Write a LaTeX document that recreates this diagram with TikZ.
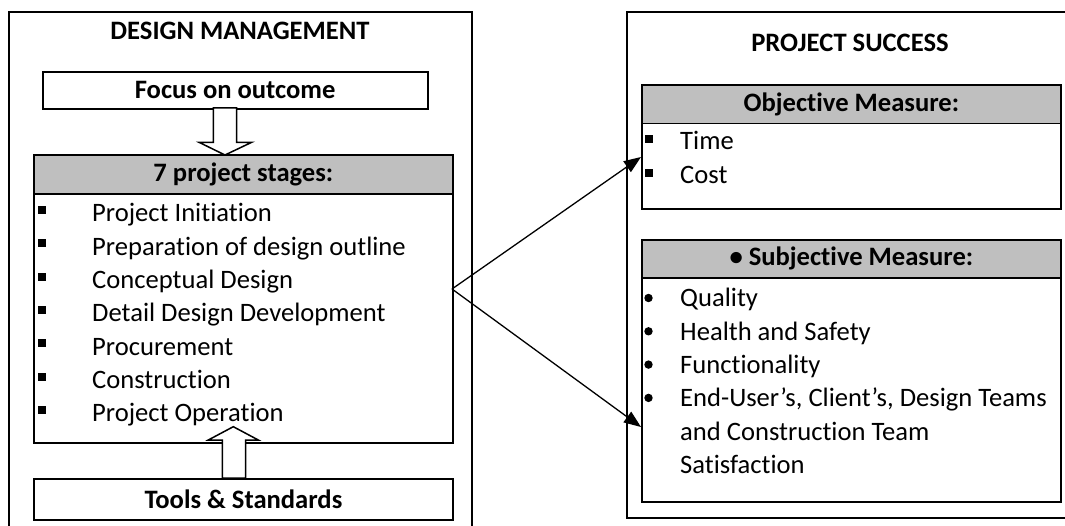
\documentclass[tikz,border=0pt]{standalone}
\usepackage{fontspec}
\setmainfont[Ligatures={TeX,NoCommon}]{Carlito}
\usepackage{tikz}
\usetikzlibrary{arrows.meta}
\definecolor{headgray}{RGB}{191,191,191}
\newcommand{\bigtext}{\fontsize{26.6}{33.3}\selectfont}
\tikzset{
outerbox/.style={
	line width=1.3pt
},
headbox/.style={
	draw,
	fill=headgray,
	anchor=north west,
	inner sep=0pt,
	line width=1.8pt,
	font=\bigtext\bfseries
},
bodybox/.style={
	draw,
	fill=white,
	anchor=north west,
	inner sep=0pt,
	line width=1.8pt
},
plainbox/.style={
	draw,
	fill=white,
	anchor=north west,
	inner sep=0pt,
	line width=1.8pt,
	font=\bigtext\bfseries
},
hollow/.style={
	draw,
	fill=white,
	line width=1.5pt,
	line join=miter
},
item/.style={
	anchor=base west,
	inner sep=0pt
},
link/.style={
	line width=1.3pt,
	-{Triangle[length=17pt,width=13pt]}
}
}

\begin{document}
\begin{tikzpicture}[x=1pt,y=-1pt,font=\bigtext]
		\useasboundingbox[fill=white] (0,0) rectangle (1065,526);
		% the two frames
		\draw[outerbox] (9,530) -- (9,12) -- (472,12) -- (472,530);
		\draw[outerbox] (1070,12) -- (627,12) -- (627,518) -- (1070,518);
		\node[font=\bigtext\bfseries] (dmtitle) at (240,31) {DESIGN MANAGEMENT};
		\node[font=\bigtext\bfseries] (pstitle) at (850,43) {PROJECT SUCCESS};
		% left column
		\node[plainbox, minimum width=385pt, minimum height=37pt] (focus) at (41.7,71) {Focus on outcome};
		\node[bodybox, minimum width=419pt, minimum height=248.7pt] (stagebody) at (33,193) {};
		\node[headbox, minimum width=419pt, minimum height=39pt] (stagehead) at (33,154) {7 project stages:};
		\foreach \stage [count=\i] in {Project Initiation, Preparation of design outline, Conceptual Design, Detail Design Development, Procurement, Construction, Project Operation} {
			\fill (37.5,{222+33.3*(\i-1)-16}) rectangle ++(8,8);
			\node[item] (stage\i) at (92,{222+33.3*(\i-1)}) {\stage};
		}
		\node[plainbox, minimum width=419pt, minimum height=41pt] (tools) at (33,478) {Tools \& Standards};
		\draw[hollow] (213.3,108) -- (236.7,108) -- (236.7,142.3) -- (251.7,142.3) -- (225,155) -- (199,142.3) -- (213.3,142.3) -- cycle;
		\draw[hollow] (222.3,478) -- (245.7,478) -- (245.7,440) -- (258.3,440) -- (233.3,426.7) -- (208.3,440) -- (222.3,440) -- cycle;
		% right column
		\node[bodybox, minimum width=419pt, minimum height=85.3pt] (objbody) at (641,122.7) {};
		\node[headbox, minimum width=419pt, minimum height=38.7pt] (objhead) at (641,84) {Objective Measure:};
		\foreach \meas [count=\i] in {Time, Cost} {
			\fill (645,{150+33.3*(\i-1)-14.5}) rectangle ++(8,8);
			\node[item] (obj\i) at (680,{150+33.3*(\i-1)}) {\meas};
		}
		\node[bodybox, minimum width=419pt, minimum height=224pt] (subjbody) at (641,277) {};
		\node[headbox, minimum width=419pt, minimum height=38pt] (subjhead) at (641,239) {\textbullet\ Subjective Measure:};
		\foreach \meas [count=\i] in {Quality, Health and Safety, Functionality, {End-User's, Client's, Design Teams}} {
			\fill (648.5,{307+33.3*(\i-1)-9}) circle (4.2);
			\node[item] (subj\i) at (680,{307+33.3*(\i-1)}) {\meas};
		}
		\node[item] (subj5) at (680,440.2) {and Construction Team};
		\node[item] (subj6) at (680,473.5) {Satisfaction};
		% links between the columns
		\coordinate (src) at (452,289);
		\coordinate (objtip) at (641,157);
		\coordinate (subjtip) at (641,427);
		\draw[link] (src) -- (objtip);
		\draw[link] (src) -- (subjtip);
\end{tikzpicture}
\end{document}
